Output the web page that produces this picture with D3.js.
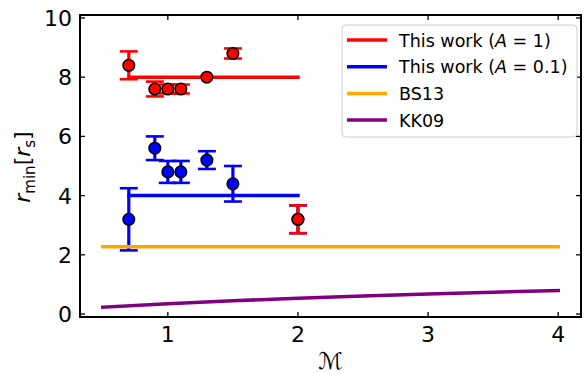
<!DOCTYPE html>
<html>
<head>
<meta charset="utf-8">
<script src="https://cdn.jsdelivr.net/npm/d3@7"></script>
<style>
  html, body { margin: 0; padding: 0; background: #fff; }
  svg { display: block; }
  text { font-family: "DejaVu Sans", sans-serif; fill: #000; }
</style>
</head>
<body>
<svg id="chart" width="587" height="374"></svg>
<script>
// Mach numbers of the simulation runs
const machValues = [0.7, 0.9, 1.0, 1.1, 1.3, 1.5, 2.0];
// r_min for A = 1 and its uncertainty
const rminA1 = [8.4, 7.6, 7.6, 7.6, 8.0, 8.8, 3.2];
const errA1 = [0.47, 0.25, 0.15, 0.15, 0.0, 0.17, 0.47];
// r_min for A = 0.1 and its uncertainty
const rminA01 = [3.2, 5.6, 4.8, 4.8, 5.2, 4.4, 3.2];
const errA01 = [1.05, 0.4, 0.37, 0.37, 0.3, 0.6, 0.47];
// Fitted levels
const fitMach = [0.7, 2.0];
const fitA1 = [8.0, 8.0];
const fitA01 = [4.0, 4.0];
// BS13 prediction
const bs13Mach = [0.5, 4.0];
const bs13Rmin = [2.27, 2.27];
// KK09 prediction
const kk09Mach = [0.5, 1.0, 1.5, 2.0, 2.5, 3.0, 3.5, 4.0];
const kk09Rmin = [0.23, 0.35, 0.45, 0.53, 0.61, 0.68, 0.74, 0.79];
// Axis ticks
const xTicks = [1, 2, 3, 4];
const yTicks = [0, 2, 4, 6, 8, 10];

const svg = d3.select("#chart");
const padL = 80, padR = 581, padT = 15, padB = 317;

const x = d3.scaleLinear().domain([0.325, 4.175]).range([padL, padR]);
const y = d3.scaleLinear().domain([-0.1, 10.1]).range([padB, padT]);

const plot = svg.append("g");
const red = "#ff0000", blue = "#0000ff", orange = "#ffa500", purple = "#800080";

function errorBars(vals, errs, color) {
  const g = plot.append("g").attr("stroke", color).attr("fill", "none");
  machValues.forEach((m, i) => {
    const e = errs[i];
    if (e <= 0) return;
    const cx = x(m);
    g.append("line").attr("x1", cx).attr("x2", cx)
      .attr("y1", y(vals[i] + e)).attr("y2", y(vals[i] - e)).attr("stroke-width", 3.2);
    [vals[i] + e, vals[i] - e].forEach(v => {
      g.append("line").attr("x1", cx - 9).attr("x2", cx + 9)
        .attr("y1", y(v)).attr("y2", y(v)).attr("stroke-width", 2.6);
    });
  });
}

function seriesLine(xs, ys, color, w) {
  const line = d3.line().x((d, i) => x(xs[i])).y(d => y(d));
  plot.append("path").datum(ys).attr("d", line)
    .attr("fill", "none").attr("stroke", color).attr("stroke-width", w)
    .attr("stroke-linecap", "square");
}

function markers(vals, color) {
  plot.append("g").selectAll("circle").data(vals).join("circle")
    .attr("cx", (d, i) => x(machValues[i])).attr("cy", d => y(d))
    .attr("r", 5.8).attr("fill", color).attr("stroke", "#000").attr("stroke-width", 1.5);
}

errorBars(rminA01, errA01, blue);
errorBars(rminA1, errA1, red);
seriesLine(fitMach, fitA1, red, 3.5);
seriesLine(fitMach, fitA01, blue, 3.5);
seriesLine(bs13Mach, bs13Rmin, orange, 3.5);
seriesLine(kk09Mach, kk09Rmin, purple, 3.5);
markers(rminA01, blue);
markers(rminA1, red);

// Axes frame with inward ticks on all sides
const axes = svg.append("g");
const tickLen = 5;
axes.append("rect").attr("x", padL).attr("y", padT).attr("width", padR - padL).attr("height", padB - padT)
  .attr("fill", "none").attr("stroke", "#000").attr("stroke-width", 2);

xTicks.forEach(t => {
  const px = x(t);
  axes.append("line").attr("x1", px).attr("x2", px).attr("y1", padB).attr("y2", padB - tickLen)
    .attr("stroke", "#000").attr("stroke-width", 1.3);
  axes.append("line").attr("x1", px).attr("x2", px).attr("y1", padT).attr("y2", padT + tickLen)
    .attr("stroke", "#000").attr("stroke-width", 1.3);
  axes.append("text").attr("x", px).attr("y", 342).attr("text-anchor", "middle")
    .attr("font-size", 22).text(d3.format("d")(t));
});
yTicks.forEach(t => {
  const py = y(t);
  axes.append("line").attr("x1", padL).attr("x2", padL + tickLen).attr("y1", py).attr("y2", py)
    .attr("stroke", "#000").attr("stroke-width", 1.3);
  axes.append("line").attr("x1", padR).attr("x2", padR - tickLen).attr("y1", py).attr("y2", py)
    .attr("stroke", "#000").attr("stroke-width", 1.3);
  axes.append("text").attr("x", 72).attr("y", py + 8).attr("text-anchor", "end")
    .attr("font-size", 22).text(d3.format("d")(t));
});

// Axis titles
svg.append("text").attr("x", (padL + padR) / 2).attr("y", 369).attr("text-anchor", "middle")
  .attr("font-size", 23).attr("font-style", "italic").text("\u2133");

const yl = svg.append("text").attr("transform", "translate(30,167) rotate(-90)")
  .attr("text-anchor", "middle").attr("font-size", 22);
yl.append("tspan").attr("font-style", "italic").text("r");
yl.append("tspan").attr("font-size", 15).attr("dy", 5).text("min");
yl.append("tspan").attr("dy", -5).text("[");
yl.append("tspan").attr("font-style", "italic").text("r");
yl.append("tspan").attr("font-size", 15).attr("dy", 5).text("s");
yl.append("tspan").attr("dy", -5).text("]");

// Legend
const legendItems = [
  { color: red, parts: [["This work (", false], ["A", true], [" = 1)", false]] },
  { color: blue, parts: [["This work (", false], ["A", true], [" = 0.1)", false]] },
  { color: orange, parts: [["BS13", false]] },
  { color: purple, parts: [["KK09", false]] }
];
const lg = svg.append("g");
lg.append("rect").attr("x", 342).attr("y", 25).attr("width", 235).attr("height", 112).attr("rx", 4)
  .attr("fill", "#fff").attr("fill-opacity", 0.85).attr("stroke", "#d0d0d0").attr("stroke-width", 1);
legendItems.forEach((it, i) => {
  const ly = 40 + i * 26.7;
  lg.append("line").attr("x1", 347).attr("x2", 387).attr("y1", ly).attr("y2", ly)
    .attr("stroke", it.color).attr("stroke-width", 3.5);
  const t = lg.append("text").attr("x", 399).attr("y", ly + 6.5).attr("font-size", 17.5);
  it.parts.forEach(p => t.append("tspan").attr("font-style", p[1] ? "italic" : null).text(p[0]));
});
</script>
</body>
</html>
